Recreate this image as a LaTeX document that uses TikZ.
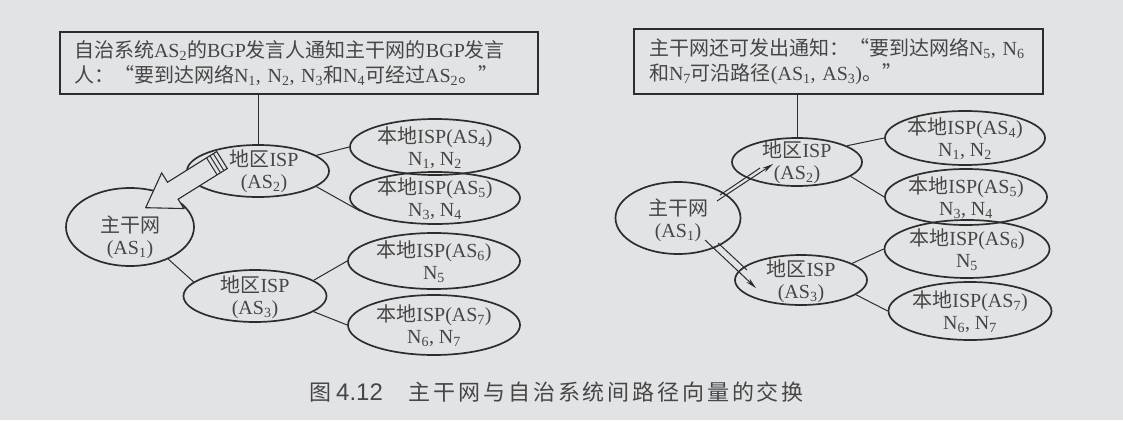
\documentclass[tikz,border=0pt]{standalone}
\usepackage{fontspec}
\setmainfont{Liberation Serif}
\newfontfamily\cjk{Noto Sans CJK SC}
\newfontfamily\capcjk[LetterSpace=13]{Noto Sans CJK SC}
\newfontfamily\capnum{Liberation Sans}
\usetikzlibrary{arrows.meta,calc,shapes.geometric}
\definecolor{bg}{RGB}{226,227,229}
\definecolor{ink}{RGB}{45,45,45}
\definecolor{txt}{RGB}{70,70,70}
\newcommand{\C}[1]{{\cjk #1}}
\newcommand{\sbs}[1]{\textsubscript{#1}}
\begin{document}
\begin{tikzpicture}[x=1pt,y=-1pt,
  asnode/.style={ellipse, draw=ink, line width=1.7pt, inner sep=0pt},
  lab/.style={text=txt, align=center, inner sep=0pt, font=\fontsize{20}{22}\selectfont},
  msgbox/.style={rectangle, draw=ink, line width=1.6pt, text=txt, align=left, inner ysep=0pt, font=\fontsize{20}{25}\selectfont},
  conn/.style={draw=ink, line width=1pt},
  hollow/.style={draw=ink, line width=1.1pt, fill=bg, line join=miter},
  adv/.style={draw=ink, line width=1pt, -{Stealth[length=11pt,width=5pt]}}]
\fill[bg] (0,0) rectangle (1123,420);
\useasboundingbox (0,0) rectangle (1123,420);

% ---------- left figure ----------
\node[msgbox, minimum width=478pt, minimum height=62pt, text width=450pt, inner xsep=14pt] (box1) at (299,63)
 {\C{自治系统}AS\sbs{2}\C{的}BGP\C{发言人通知主干网的}BGP\C{发言}\\
  \C{人：“要到达网络}N\sbs{1}, N\sbs{2}, N\sbs{3}\C{和}N\sbs{4}\C{可经过}AS\sbs{2}\C{。”}};

\node[asnode, minimum width=142pt, minimum height=52pt] (l2) at (258,171) {};
\node[asnode, minimum width=170pt, minimum height=56pt] (l4) at (435,147) {};
\node[asnode, minimum width=170pt, minimum height=52pt] (l5) at (435,198) {};
\node[asnode, minimum width=128pt, minimum height=78pt] (l1) at (130,227) {};
\node[asnode, minimum width=143pt, minimum height=52pt] (l3) at (255,296) {};
\node[asnode, minimum width=172pt, minimum height=56pt] (l6) at (434,261) {};
\node[asnode, minimum width=172pt, minimum height=60pt] (l7) at (434,325) {};

\node[lab] (l4t) at (435,148) {\C{本地}ISP(AS\sbs{4})\\N\sbs{1}, N\sbs{2}};
\node[lab] (l5t) at (435,199) {\C{本地}ISP(AS\sbs{5})\\N\sbs{3}, N\sbs{4}};
\node[lab] (l1t) at (130,237) {\C{主干网}\\(AS\sbs{1})};
\node[lab] (l3t) at (255,297) {\C{地区}ISP\\(AS\sbs{3})};
\node[lab] (l6t) at (434,262) {\C{本地}ISP(AS\sbs{6})\\N\sbs{5}};
\node[lab] (l7t) at (434,326) {\C{本地}ISP(AS\sbs{7})\\N\sbs{6}, N\sbs{7}};

\draw[conn] (l2.north |- box1.south) -- (l2.north);
\draw[conn] (l2.15) -- (l4.west);
\draw[conn] (l2.-15) -- (l5.190);
\draw[conn] (l1.-40) -- (l3.167);
\draw[conn] (l3.15) -- (l6.west);
\draw[conn] (l3.-15) -- (l7.west);

% hollow advertisement arrow AS2 -> AS1
\begin{scope}[shift={(222,160)}, rotate=212]
  \draw[hollow] (0,-10) -- (58,-10) -- (58,-21) -- (90,0) -- (58,21) -- (58,10) -- (0,10) -- cycle;
  \draw[conn] (4,-10) -- (4,10);
  \draw[conn] (8,-10) -- (8,10);
  \draw[conn] (12,-10) -- (12,10);
\end{scope}
\node[lab] (l2t) at (264,171) {\C{地区}ISP\\(AS\sbs{2})};

% ---------- right figure ----------
\node[msgbox, minimum width=409pt, minimum height=65pt, text width=379pt, inner xsep=15pt] (box2) at (838.5,61.5)
 {\C{主干网还可发出通知：“要到达网络}N\sbs{5},~N\sbs{6}\\
  \C{和}N\sbs{7}\C{可沿路径}(AS\sbs{1},~AS\sbs{3})\C{。”}};

\node[asnode, minimum width=130pt, minimum height=48pt] (r2) at (797,162) {};
\node[asnode, minimum width=160pt, minimum height=54pt] (r4) at (965,138) {};
\node[asnode, minimum width=162pt, minimum height=56pt] (r5) at (966,197) {};
\node[asnode, minimum width=125pt, minimum height=72pt] (r1) at (678,218) {};
\node[asnode, minimum width=132pt, minimum height=50pt] (r3) at (801,280) {};
\node[asnode, minimum width=165pt, minimum height=58pt] (r6) at (967,249) {};
\node[asnode, minimum width=163pt, minimum height=58pt] (r7) at (970,311) {};

\node[lab] (r2t) at (797,162) {\C{地区}ISP\\(AS\sbs{2})};
\node[lab] (r4t) at (965,139) {\C{本地}ISP(AS\sbs{4})\\N\sbs{1}, N\sbs{2}};
\node[lab] (r5t) at (966,198) {\C{本地}ISP(AS\sbs{5})\\N\sbs{3}, N\sbs{4}};
\node[lab] (r1t) at (678,220) {\C{主干网}\\(AS\sbs{1})};
\node[lab] (r3t) at (801,281) {\C{地区}ISP\\(AS\sbs{3})};
\node[lab] (r6t) at (967,250) {\C{本地}ISP(AS\sbs{6})\\N\sbs{5}};
\node[lab] (r7t) at (970,312) {\C{本地}ISP(AS\sbs{7})\\N\sbs{6}, N\sbs{7}};

\draw[conn] (r2.north |- box2.south) -- (r2.north);
\draw[conn] (r2.18) -- (r4.west);
\draw[conn] (r2.-15) -- (r5.west);
\draw[conn] (r3.18) -- (r6.west);
\draw[conn] (r3.-15) -- (r7.west);

\coordinate (ua) at (717,201);
\coordinate (ub) at (773,164);
\coordinate (uc) at (720,195);
\coordinate (ud) at (760,168);
\draw[adv] (ua) -- (ub);
\draw[conn] (uc) -- (ud);
\coordinate (da) at (705,240);
\coordinate (db) at (756,288);
\coordinate (dc) at (718,243);
\coordinate (dd) at (747,270);
\draw[adv] (da) -- (db);
\draw[conn] (dc) -- (dd);

% ---------- caption ----------
\node[anchor=west, text=txt, inner sep=0pt] (cap) at (309,392)
 {{\fontsize{22}{24}\selectfont\cjk 图}\hspace{5pt}{\fontsize{24}{26}\selectfont\capnum 4.12}\hspace{26pt}{\fontsize{22}{24}\selectfont\capcjk 主干网与自治系统间路径向量的交换}};
\end{tikzpicture}
\end{document}
